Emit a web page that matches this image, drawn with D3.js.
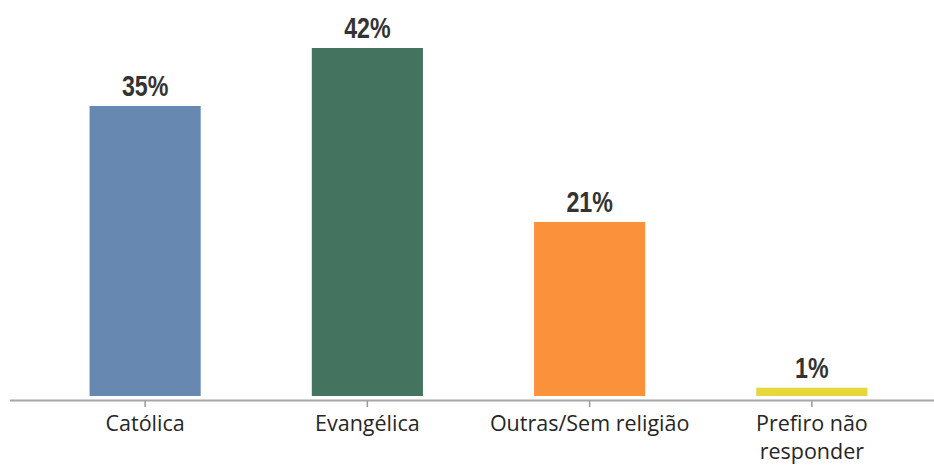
<!DOCTYPE html>
<html>
<head>
<meta charset="utf-8">
<script src="https://cdn.jsdelivr.net/npm/d3@7"></script>
<style>
  html, body { margin: 0; padding: 0; background: #fff; }
  svg { display: block; }
</style>
</head>
<body>
<svg id="chart" width="934" height="467"></svg>
<script>
const categories = ["Católica", "Evangélica", "Outras/Sem religião", "Prefiro não|responder"];
const values = [35, 42, 21, 1];
const valueLabels = ["35%", "42%", "21%", "1%"];
const colors = ["#6688b1", "#447360", "#fc913c", "#e6d83a"];

const svg = d3.select("#chart");
const W = 934, H = 467;
const baseY = 396;

const x = d3.scaleBand()
  .domain(categories)
  .range([34, 923])
  .paddingInner(0.5)
  .paddingOuter(0.25);

const y = d3.scaleLinear()
  .domain([0, 42])
  .range([baseY, 48]);

// bars
svg.append("g").selectAll("rect")
  .data(categories)
  .join("rect")
  .attr("x", d => x(d))
  .attr("width", x.bandwidth())
  .attr("y", (d, i) => y(values[i]))
  .attr("height", (d, i) => baseY - y(values[i]))
  .attr("fill", (d, i) => colors[i]);

// value labels (condensed bold)
svg.append("g").selectAll("text")
  .data(categories)
  .join("text")
  .attr("transform", (d, i) => `translate(${x(d) + x.bandwidth() / 2},${y(values[i]) - 10}) scale(0.8,1)`)
  .attr("text-anchor", "middle")
  .attr("font-family", "'Liberation Sans', Arial, sans-serif")
  .attr("font-weight", "bold")
  .attr("font-size", 29)
  .attr("fill", "#333333")
  .text((d, i) => valueLabels[i]);

// axis ticks
const axis = d3.axisBottom(x).tickSize(7).tickFormat("");
const gAxis = svg.append("g")
  .attr("transform", `translate(0,${400})`)
  .call(axis);
gAxis.select(".domain").remove();
gAxis.selectAll(".tick line").attr("stroke", "#999").attr("stroke-width", 1.5);
svg.append("line")
  .attr("x1", 10).attr("x2", W)
  .attr("y1", 400.5).attr("y2", 400.5)
  .attr("stroke", "#a6a6a6").attr("stroke-width", 2);

// category labels
const labels = svg.append("g").selectAll("text")
  .data(categories)
  .join("text")
  .attr("x", d => x(d) + x.bandwidth() / 2)
  .attr("y", 431)
  .attr("text-anchor", "middle")
  .attr("font-family", "'Open Sans', 'Noto Sans', sans-serif")
  .attr("font-size", 21.5)
  .attr("fill", "#262626");
labels.each(function(d) {
  const parts = d.split("|");
  const t = d3.select(this);
  parts.forEach((p, j) => {
    t.append("tspan")
      .attr("x", x(d) + x.bandwidth() / 2)
      .attr("dy", j === 0 ? 0 : 28)
      .text(p);
  });
});
</script>
</body>
</html>
